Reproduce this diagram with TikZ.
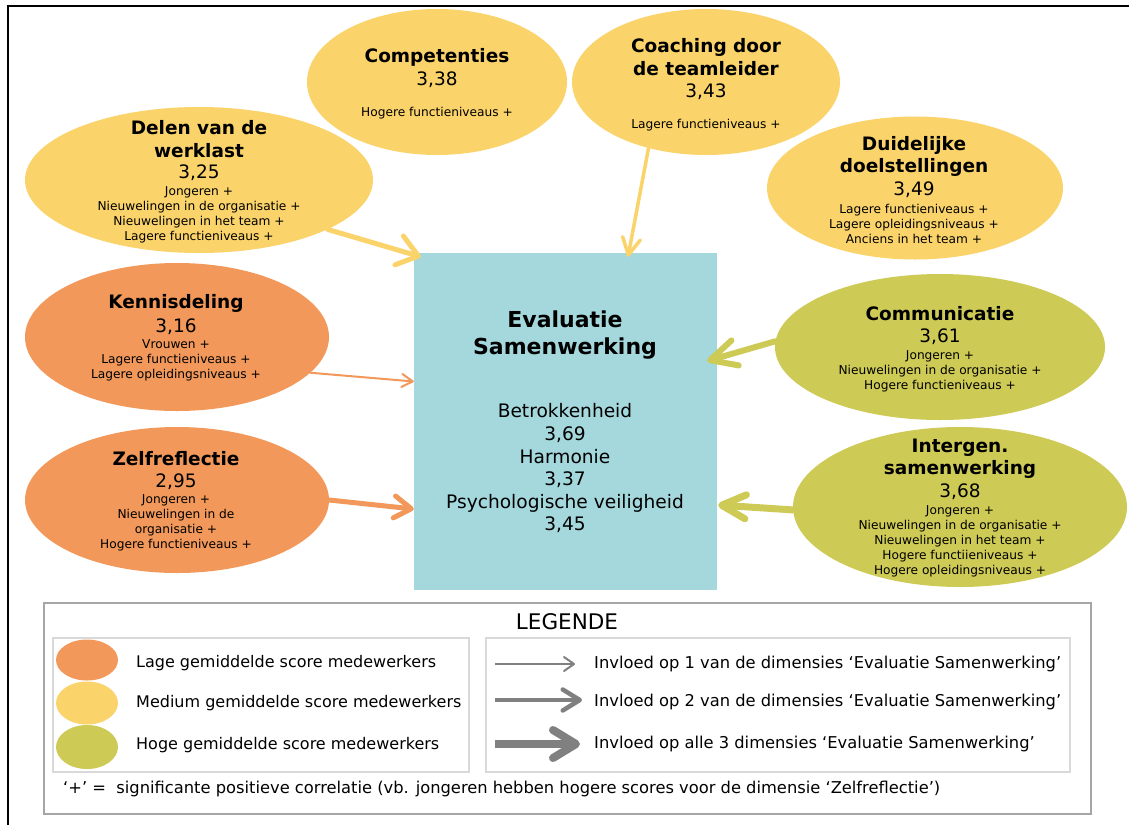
\documentclass[tikz,border=0pt]{standalone}
\usepackage{fontspec}
\setmainfont{DejaVu Sans}
\usetikzlibrary{shapes.geometric,arrows.meta,calc}
\newcommand\fsz[2]{\fontsize{#1}{#2}\selectfont}
\definecolor{lowC}{RGB}{241,152,90}
\definecolor{medC}{RGB}{250,211,106}
\definecolor{highC}{RGB}{206,202,86}
\definecolor{boxC}{RGB}{164,216,220}
\definecolor{arrG}{RGB}{128,128,128}
\definecolor{legIn}{RGB}{217,217,217}
\definecolor{legOut}{RGB}{166,166,166}
\begin{document}
\begin{tikzpicture}[x=1pt,y=-1pt,
  ell/.style={ellipse, inner sep=0pt, draw=none},
  lowE/.style={ell, fill=lowC},
  medE/.style={ell, fill=medC},
  highE/.style={ell, fill=highC},
  ttl/.style={font=\bfseries\fsz{18.5}{22.5}, align=center, inner sep=0pt},
  val/.style={font=\fsz{18.5}{22}, inner sep=0pt},
  itm/.style={font=\fsz{12.2}{15}, align=center, inner sep=0pt},
  con/.style={line cap=round},
  legtxt/.style={font=\fsz{16.3}{19}, anchor=west, inner sep=0pt},
  legtxtL/.style={font=\fsz{16}{19}, anchor=west, inner sep=0pt},
]
\useasboundingbox (0,0) rectangle (1129,825);
% outer frame
\draw[line width=2pt] (8,825) -- (8,6) -- (1129,6);

% central box
\node[fill=boxC, minimum width=303, minimum height=337, inner sep=0pt] (box) at (565.5,421.5) {};
\node[font=\bfseries\fsz{22}{27}, align=center, inner sep=0pt] (boxT) at (565,335.5) {Evaluatie\\Samenwerking};
\node[font=\fsz{18.6}{22.6}, align=center, inner sep=0pt] (boxI) at (565,468.5) {Betrokkenheid\\3,69\\Harmonie\\3,37\\Psychologische veiligheid\\3,45};

% ellipses
\node[medE, minimum width=348, minimum height=146] (dl) at (199,180) {};
\node[medE, minimum width=260, minimum height=146] (cp) at (437,82) {};
\node[medE, minimum width=268, minimum height=146] (co) at (706,82) {};
\node[medE, minimum width=296, minimum height=143] (dd) at (915,188) {};
\node[lowE, minimum width=304, minimum height=148] (kd) at (177,337) {};
\node[lowE, minimum width=304, minimum height=146] (zr) at (177,500) {};
\node[highE, minimum width=330, minimum height=146] (cm) at (940,347) {};
\node[highE, minimum width=334, minimum height=160] (ig) at (960,507) {};

% ellipse texts
\node[ttl] (dlT) at (199,139) {Delen van de\\werklast};
\node[val] (dlV) at (199,173) {3,25};
\node[itm] (dlI) at (199,214.5) {Jongeren +\\Nieuwelingen in de organisatie +\\Nieuwelingen in het team +\\Lagere functieniveaus +};

\node[ttl] (cpT) at (437,57) {Competenties};
\node[val] (cpV) at (437,80) {3,38};
\node[itm] (cpI) at (437,113) {Hogere functieniveaus +};

\node[ttl] (coT) at (706,57) {Coaching door\\de teamleider};
\node[val] (coV) at (706,92) {3,43};
\node[itm] (coI) at (706,125) {Lagere functieniveaus +};

\node[ttl] (ddT) at (914,156.5) {Duidelijke\\doelstellingen};
\node[val] (ddV) at (914,190) {3,49};
\node[itm] (ddI) at (914,224) {Lagere functieniveaus +\\Lagere opleidingsniveaus +\\Anciens in het team +};

\node[ttl] (kdT) at (176,303) {Kennisdeling};
\node[val] (kdV) at (176,327) {3,16};
\node[itm] (kdI) at (176,360) {Vrouwen +\\Lagere functieniveaus +\\Lagere opleidingsniveaus +};

\node[ttl] (zrT) at (176,459) {Zelfreflectie};
\node[val] (zrV) at (176,482) {2,95};
\node[itm] (zrI) at (176,522.5) {Jongeren +\\Nieuwelingen in de\\organisatie +\\Hogere functieniveaus +};

\node[ttl] (cmT) at (940,314) {Communicatie};
\node[val] (cmV) at (940,337) {3,61};
\node[itm] (cmI) at (940,371) {Jongeren +\\Nieuwelingen in de organisatie +\\Hogere functieniveaus +};

\node[ttl] (igT) at (960,458.5) {Intergen.\\samenwerking};
\node[val] (igV) at (960,492) {3,68};
\node[itm] (igI) at (960,541) {Jongeren +\\Nieuwelingen in de organisatie +\\Nieuwelingen in het team +\\Hogere functiieniveaus +\\Hogere opleidingsniveaus +};

% connectors
\draw[con, medC, line width=5pt, -{Straight Barb[round,length=20pt,width=30pt]}] (dl.-21) -- ($(box.north west)+(7,4)$);
\draw[con, medC, line width=3.5pt, -{Straight Barb[round,length=17pt,width=18pt]}] (co.-131) -- ($(box.north)+(62.5,4)$);
\draw[con, lowC, line width=2pt, -{Straight Barb[round,length=11pt,width=13pt]}] (kd.-15) -- ($(box.west)+(0,-40)$);
\draw[con, lowC, line width=5pt, -{Straight Barb[round,length=17pt,width=22pt]}] (zr.0) -- ($(box.west)+(0,87.5)$);
\draw[con, highC, line width=6pt, -{Straight Barb[round,length=26pt,width=26pt]}] (cm.178) -- ($(box.east)+(-10,-60.5)$);
\draw[con, highC, line width=7pt, -{Straight Barb[round,length=24pt,width=24pt]}] (ig.181) -- ($(box.east)+(1,83.5)$);

% legend
\node[draw=legOut, line width=1.2pt, minimum width=1047, minimum height=211, inner sep=0pt] (leg) at (567.5,708.5) {};
\node[draw=legIn, line width=2.5pt, minimum width=416, minimum height=134, inner sep=0pt] (legL) at (261,705) {};
\node[draw=legIn, line width=2.5pt, minimum width=584, minimum height=134, inner sep=0pt] (legR) at (778,705) {};
\node[font=\fsz{21.5}{24}, inner sep=0pt] (legT) at (567,622) {LEGENDE};

\node[lowE, minimum width=62, minimum height=41] (c1) at (87,660) {};
\node[medE, minimum width=62, minimum height=43] (c2) at (87,703) {};
\node[highE, minimum width=62, minimum height=44] (c3) at (87,747) {};
\node[legtxtL] (t1) at (136,663) {Lage gemiddelde score medewerkers};
\node[legtxtL] (t2) at (136,703) {Medium gemiddelde score medewerkers};
\node[legtxtL] (t3) at (136,745) {Hoge gemiddelde score medewerkers};

\coordinate (a1s) at (495,664); \coordinate (a1e) at (575,664);
\coordinate (a2s) at (495,700); \coordinate (a2e) at (582,700);
\coordinate (a3s) at (495,744); \coordinate (a3e) at (580,744);
\draw[arrG, line width=2pt, -{Straight Barb[round,length=10pt,width=14pt]}] (a1s) -- (a1e);
\draw[arrG, line width=4.5pt, -{Straight Barb[round,length=17pt,width=21pt]}] (a2s) -- (a2e);
\draw[arrG, line width=8pt, -{Straight Barb[round,length=23pt,width=28pt]}] (a3s) -- (a3e);
\node[legtxt] (r1) at (594,664) {Invloed op 1 van de dimensies ‘Evaluatie Samenwerking’};
\node[legtxt] (r2) at (594,702) {Invloed op 2 van de dimensies ‘Evaluatie Samenwerking’};
\node[legtxt] (r3) at (594,744) {Invloed op alle 3 dimensies ‘Evaluatie Samenwerking’};

\node[font=\fsz{16.3}{18}, anchor=west, inner sep=0pt] (fn) at (63,789) {‘+’ =\ \ significante positieve correlatie (vb. jongeren hebben hogere scores voor de dimensie ‘Zelfreflectie’)};
\end{tikzpicture}
\end{document}
